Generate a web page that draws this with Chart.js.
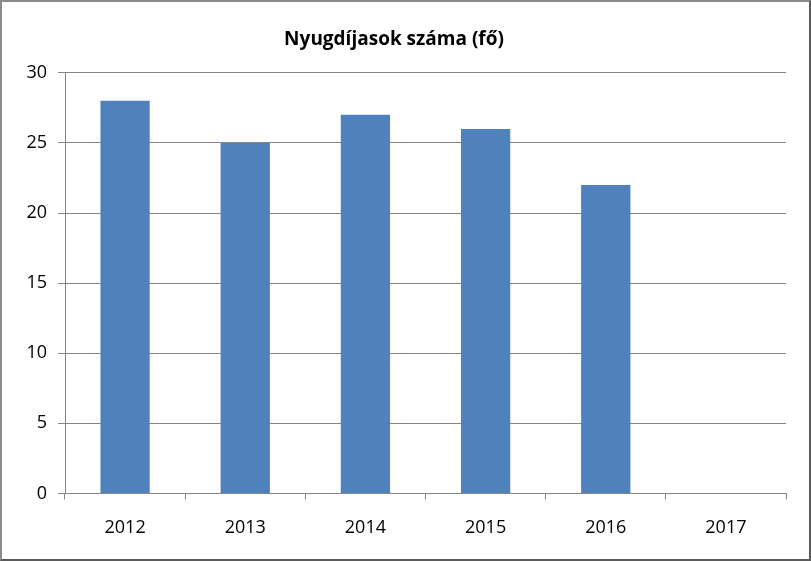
<!DOCTYPE html>
<html>
<head>
<meta charset="utf-8">
<script src="https://cdn.jsdelivr.net/npm/chart.js@4.4.0/dist/chart.umd.min.js"></script>
<style>
  body { margin: 0; background: #fff; }
  #wrap {
    width: 811px; height: 561px; box-sizing: border-box;
    border: 2px solid #8a8a8a; border-right-color: #5a5a5a; border-bottom-color: #5a5a5a;
    background: #fff;
  }
</style>
</head>
<body>
<div id="wrap"><canvas id="myChart" width="807" height="557"></canvas></div>
<script>
'use strict';

let years = ['2012', '2013', '2014', '2015', '2016', '2017'];
let pensioners = [28, 25, 27, 26, 22, 0];
let chartTitle = 'Nyugdíjasok száma (fő)';

let ctx = document.getElementById('myChart').getContext('2d');
let gridColor = '#868686';

let pensionChart = new Chart(ctx, {
    type: 'bar',
    data: {
        labels: years,
        datasets: [{
            data: pensioners,
            backgroundColor: '#4f81bd',
            borderWidth: 0,
            categoryPercentage: 1,
            barPercentage: 0.41
        }]
    },
    options: {
        responsive: false,
        animation: false,
        layout: { padding: { left: 0, right: 23, top: 0, bottom: 2 } },
        plugins: {
            legend: { display: false },
            tooltip: { enabled: false },
            title: {
                display: true,
                text: chartTitle,
                color: '#000',
                font: { family: 'Open Sans', size: 19, weight: 'bold' },
                padding: { top: 26, bottom: 22 }
            }
        },
        scales: {
            x: {
                offset: true,
                grid: {
                    offset: true,
                    drawOnChartArea: false,
                    color: gridColor,
                    tickLength: 6
                },
                border: { color: gridColor },
                ticks: {
                    color: '#000',
                    padding: 18,
                    font: { family: 'Open Sans', size: 18 }
                }
            },
            y: {
                min: 0,
                max: 30,
                afterFit: function (scale) { scale.width = 63; },
                grid: { color: gridColor, tickLength: 7 },
                border: { color: gridColor },
                ticks: {
                    stepSize: 5,
                    color: '#000',
                    padding: 11,
                    font: { family: 'Open Sans', size: 18 }
                }
            }
        }
    }
});
</script>
</body>
</html>
